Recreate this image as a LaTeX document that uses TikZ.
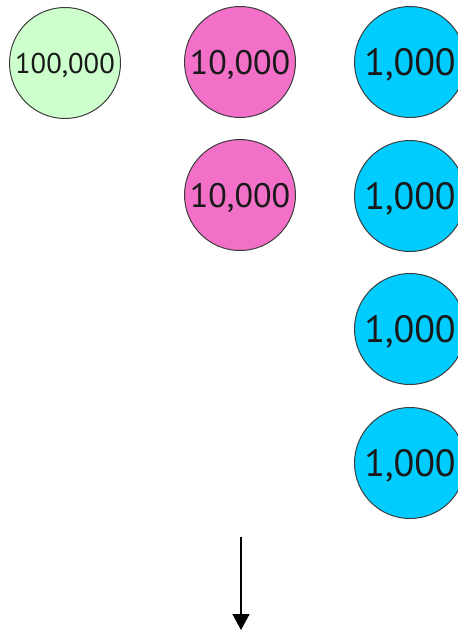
\documentclass[tikz,border=0pt]{standalone}
\usepackage{fontspec}
\setmainfont{PT Sans}
\usetikzlibrary{arrows.meta}
\definecolor{cgreen}{RGB}{204,255,204}
\definecolor{cpink}{RGB}{242,112,200}
\definecolor{cblue}{RGB}{0,204,255}
\definecolor{cedge}{RGB}{60,60,60}
\tikzset{
  disc/.style={circle, draw=cedge, line width=1pt, minimum size=111pt, inner sep=0pt, text=black!90, text depth=0pt},
  hthou/.style={disc, fill=cgreen, font=\fontsize{28.5}{28.5}\selectfont, text height=20pt},
  tthou/.style={disc, fill=cpink, font=\fontsize{34}{34}\selectfont, text height=24pt},
  thou/.style={disc, fill=cblue, font=\fontsize{38}{38}\selectfont, text height=27pt},
  downarrow/.style={line width=1.6pt, -{Triangle[length=16pt,width=17pt]}},
}
\begin{document}
\begin{tikzpicture}[x=1pt,y=-1pt]
\useasboundingbox (0,0) rectangle (458,630);
\node[hthou] (g1) at (65,63) {100,000};
\node[tthou] (p1) at (240,62) {10,000};
\node[tthou] (p2) at (240,195) {10,000};
\node[thou] (b1) at (410,62) {1,000};
\node[thou] (b2) at (410,196) {1,000};
\node[thou] (b3) at (410,329) {1,000};
\node[thou] (b4) at (410,463) {1,000};
\coordinate (a1) at (241,537);
\coordinate (a2) at (241,630);
\draw[downarrow] (a1) -- (a2);
\end{tikzpicture}
\end{document}
